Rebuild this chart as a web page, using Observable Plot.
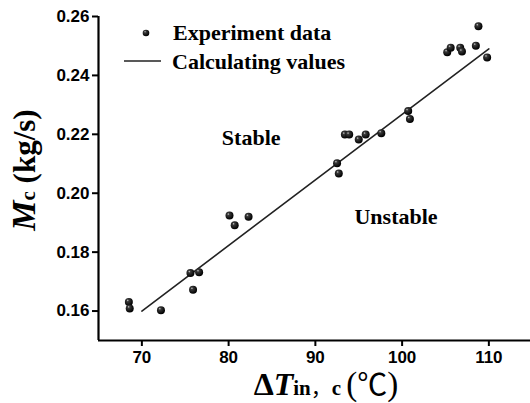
<!DOCTYPE html>
<html>
<head>
<meta charset="utf-8">
<script src="https://cdn.jsdelivr.net/npm/d3@7"></script>
<script src="https://cdn.jsdelivr.net/npm/@observablehq/plot@0.6"></script>
<style>
  html, body { margin: 0; padding: 0; background: #fff; }
  #chart { width: 530px; height: 403px; }
</style>
</head>
<body>
<div id="chart"></div>
<script>
// Experiment data (ΔT_in,c in °C, Mc in kg/s)
const expX = [68.5, 68.6, 72.2, 75.6, 76.6, 75.9, 80.1, 80.7, 82.3, 92.5, 92.7, 93.4, 93.9, 95.0, 95.8, 97.6, 100.7, 100.9, 105.2, 105.6, 106.7, 106.9, 108.5, 108.8, 109.8];
const expY = [0.1631, 0.1609, 0.1603, 0.1729, 0.1732, 0.1672, 0.1924, 0.1891, 0.1920, 0.2102, 0.2067, 0.2199, 0.2199, 0.2182, 0.2199, 0.2204, 0.2279, 0.2252, 0.2479, 0.2494, 0.2494, 0.2481, 0.2501, 0.2567, 0.2461];
// Calculating values (straight line)
const calcX = [70, 110];
const calcY = [0.1600, 0.2490];
// Region labels
const regionText = ["Stable", "Unstable"];
const regionX = [82.6, 99.3];
const regionY = [0.2186, 0.1921];
// Ticks
const xTicks = [70, 80, 90, 100, 110];
const yTicks = [0.16, 0.18, 0.20, 0.22, 0.24, 0.26];
const legendLabels = ["Experiment data", "Calculating values"];

const expData = expX.map((x, i) => ({x, y: expY[i]}));
const calcData = calcX.map((x, i) => ({x, y: calcY[i]}));
const regionData = regionText.map((t, i) => ({t, x: regionX[i], y: regionY[i]}));

const serif = "'Liberation Serif', 'Times New Roman', serif";

const plot = Plot.plot({
  width: 530,
  height: 403,
  marginLeft: 98,
  marginRight: 0,
  marginTop: 16,
  marginBottom: 63,
  style: {fontFamily: "'Liberation Sans', Arial, sans-serif", fontSize: "17px", fontWeight: "bold", color: "#000", background: "#fff"},
  x: {domain: [65, 114.8], ticks: xTicks, label: null},
  y: {domain: [0.15, 0.26], ticks: yTicks, label: null},
  marks: [
    Plot.axisX({ticks: xTicks, tickSize: 6, tickPadding: 4, label: null, strokeWidth: 2, tickFormat: d3.format("d")}),
    Plot.axisY({ticks: yTicks, tickSize: 6, tickPadding: 3, label: null, strokeWidth: 2, tickFormat: d3.format(".2f")}),
    Plot.ruleY([0.15], {stroke: "#000", strokeWidth: 2.2}),
    Plot.ruleX([65], {y1: 0.15, y2: 0.26, stroke: "#000", strokeWidth: 2.2}),
    Plot.line(calcData, {x: "x", y: "y", stroke: "#222", strokeWidth: 1.6}),
    Plot.dot(expData, {x: "x", y: "y", r: 4, fill: "#000", stroke: "none"}),
    Plot.text(regionData, {x: "x", y: "y", text: "t", fontFamily: serif, fontSize: 22, fontWeight: "bold", fill: "#000"})
  ]
});

document.getElementById("chart").appendChild(plot);
const svg = d3.select(plot);

// sphere-like shading for dots
const defs = svg.insert("defs", ":first-child");
const grad = defs.append("radialGradient").attr("id", "ball").attr("cx", "40%").attr("cy", "38%").attr("r", "60%").attr("fx", "35%").attr("fy", "30%");
grad.append("stop").attr("offset", "0%").attr("stop-color", "#cfcfcf");
grad.append("stop").attr("offset", "25%").attr("stop-color", "#3a3a3a");
grad.append("stop").attr("offset", "100%").attr("stop-color", "#000");
svg.selectAll("g[aria-label=dot] circle").attr("fill", "url(#ball)");

// Legend
const lg = svg.append("g").attr("font-family", serif).attr("font-weight", "bold").attr("font-size", 22).attr("fill", "#000").attr("text-anchor", "start");
lg.append("circle").attr("cx", 146).attr("cy", 33).attr("r", 3.3).attr("fill", "url(#ball)");
lg.append("text").attr("x", 173).attr("y", 40).attr("text-anchor", "start").text(legendLabels[0]);
lg.append("line").attr("x1", 124).attr("x2", 161).attr("y1", 61).attr("y2", 61).attr("stroke", "#222").attr("stroke-width", 1.6);
lg.append("text").attr("x", 172).attr("y", 69).attr("text-anchor", "start").text(legendLabels[1]);

// X axis title
const xt = svg.append("text").attr("x", 326).attr("y", 395).attr("text-anchor", "middle")
  .attr("font-family", serif).attr("font-weight", "bold").attr("fill", "#000");
xt.append("tspan").attr("font-size", 32).text("Δ");
xt.append("tspan").attr("font-size", 32).attr("font-style", "italic").text("T");
xt.append("tspan").attr("font-size", 21).text("in");
xt.append("tspan").attr("font-size", 21).attr("font-family", "'Noto Sans CJK SC'").attr("font-weight", "normal").text("，");
xt.append("tspan").attr("font-size", 21).text("c ");
xt.append("tspan").attr("font-size", 33).attr("font-weight", "normal").text("(");
xt.append("tspan").attr("font-size", 30).attr("font-family", "'Noto Sans CJK SC'").attr("font-weight", "normal").text("℃");
xt.append("tspan").attr("font-size", 33).attr("font-weight", "normal").text(")");

// Y axis title
const yt = svg.append("text").attr("transform", "translate(35,170) rotate(-90)").attr("text-anchor", "middle")
  .attr("font-family", serif).attr("font-weight", "bold").attr("fill", "#000");
yt.append("tspan").attr("font-size", 34).attr("font-style", "italic").text("M");
yt.append("tspan").attr("font-size", 21).text("c");
yt.append("tspan").attr("font-size", 31).text(" (kg/s)");
</script>
</body>
</html>
